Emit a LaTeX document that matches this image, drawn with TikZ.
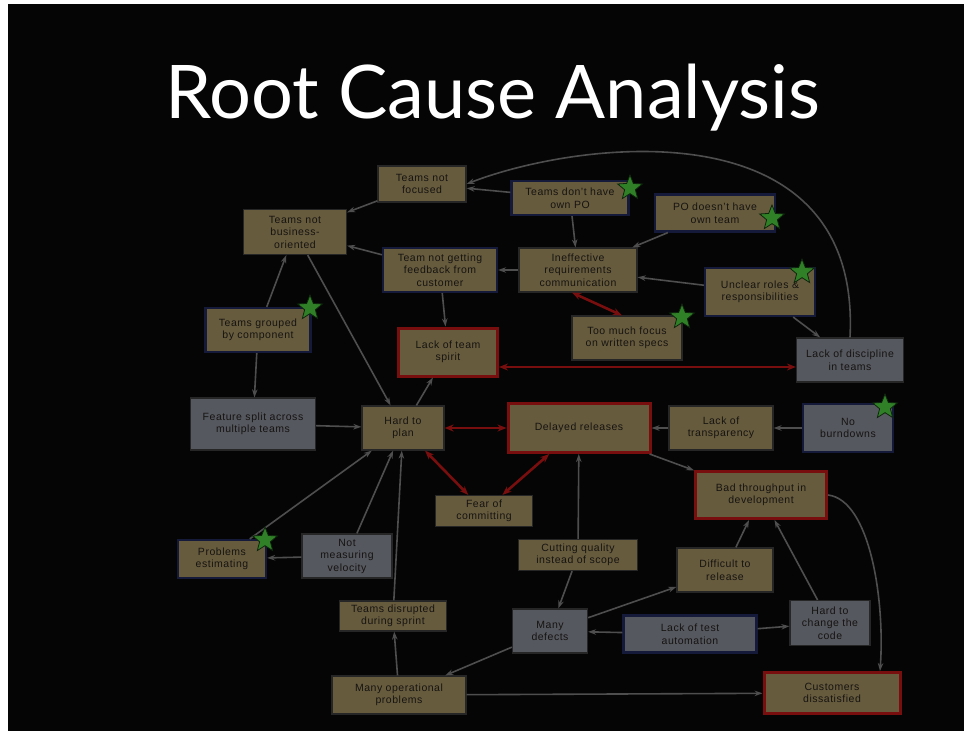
\documentclass[tikz,border=0pt]{standalone}
\usepackage{fontspec}
\setmainfont{Liberation Sans}[LetterSpace=5]
\newfontfamily\titlefont{Lato}
\usetikzlibrary{arrows.meta,shapes.geometric}

\definecolor{tanfill}{RGB}{103,91,62}
\definecolor{grayfill}{RGB}{86,88,96}
\definecolor{edgegray}{RGB}{38,38,38}
\definecolor{navyline}{RGB}{22,26,58}
\definecolor{redline}{RGB}{120,14,14}
\definecolor{linegray}{RGB}{78,78,78}
\definecolor{boxtext}{RGB}{22,20,17}
\definecolor{stargreen}{RGB}{48,128,40}

\begin{document}
\begin{tikzpicture}[
  x=1pt,y=-1pt,
  box/.style={draw=edgegray,line width=1.2pt,fill=tanfill,text=boxtext,align=center,inner sep=1pt,font=\fontsize{10.5}{12.5}\selectfont},
  grey/.style={box,fill=grayfill},
  navy/.style={draw=navyline,line width=2.2pt},
  hot/.style={draw=redline,line width=3pt},
  arrow/.style={-{Stealth[length=8pt,width=5.5pt]},line width=1.6pt,draw=linegray},
  redarrow/.style={{Stealth[length=9pt,width=7pt]}-{Stealth[length=9pt,width=7pt]},line width=2.6pt,draw=redline},
  award/.style={star,star points=5,star point ratio=2.3,fill=stargreen,draw=black!70!stargreen,line width=0.8pt,minimum size=26pt,inner sep=0pt}
]
\fill[white] (0,0) rectangle (964,731);
\fill[black!98] (8,4) rectangle (964,731);

\node[anchor=base,text=white,font=\titlefont\fontsize{74}{74}\selectfont] (title) at (493,118) {Root Cause Analysis};

% causes, top part
\node[box,minimum width=88,minimum height=36] (focused) at (422,184) {Teams not\\focused};
\node[box,navy,minimum width=117,minimum height=34] (noPO) at (570,198) {Teams don't have\\own PO};
\node[box,navy,minimum width=120,minimum height=37] (noteam) at (715,213) {PO doesn't have\\own team};
\node[box,minimum width=103,minimum height=45] (business) at (295,232) {Teams not\\business-\\oriented};
\node[box,navy,minimum width=114,minimum height=44] (feedback) at (440,270) {Team not getting\\feedback from\\customer};
\node[box,minimum width=118,minimum height=44] (ineffective) at (578,270) {Ineffective\\requirements\\communication};
\node[box,navy,minimum width=110,minimum height=48] (unclear) at (760,292) {Unclear roles \&\\responsibilities};
\node[box,navy,minimum width=105,minimum height=44] (grouped) at (258,330) {Teams grouped\\by component};
\node[box,minimum width=110,minimum height=44] (specs) at (627,338) {Too much focus\\on written specs};
\node[box,hot,minimum width=99,minimum height=48] (spirit) at (448,352) {Lack of team\\spirit};
\node[grey,minimum width=107,minimum height=44] (discipline) at (850,360) {Lack of discipline\\in teams};

% middle row
\node[grey,minimum width=125,minimum height=52] (split) at (253,424) {Feature split across\\multiple teams};
\node[box,minimum width=82,minimum height=44] (hardplan) at (403,428) {Hard to\\plan};
\node[box,hot,minimum width=142,minimum height=49] (delayed) at (579,428) {Delayed releases};
\node[box,minimum width=104,minimum height=44] (transparency) at (721,428) {Lack of\\transparency};
\node[grey,navy,minimum width=90,minimum height=48] (burndowns) at (848,428) {No\\burndowns};
\node[box,minimum width=97,minimum height=31] (fear) at (484,511) {Fear of\\committing};
\node[box,hot,minimum width=131,minimum height=47] (throughput) at (761,495) {Bad throughput in\\development};

% lower part
\node[box,navy,minimum width=88,minimum height=38] (estimating) at (222,559) {Problems\\estimating};
\node[grey,minimum width=90,minimum height=44] (velocity) at (347,556) {Not\\measuring\\velocity};
\node[box,minimum width=119,minimum height=31] (cutting) at (578,555) {Cutting quality\\instead of scope};
\node[box,minimum width=96,minimum height=44] (release) at (725,570) {Difficult to\\release};
\node[box,minimum width=107,minimum height=30] (disrupted) at (393,616) {Teams disrupted\\during sprint};
\node[grey,minimum width=75,minimum height=44] (defects) at (550,631) {Many\\defects};
\node[grey,navy,minimum width=133,minimum height=37] (testauto) at (690,634) {Lack of test\\automation};
\node[grey,minimum width=80,minimum height=45] (changecode) at (830,623) {Hard to\\change the\\code};
\node[box,minimum width=134,minimum height=38] (operational) at (399,695) {Many operational\\problems};
\node[box,hot,minimum width=136,minimum height=41] (customers) at (832,693) {Customers\\dissatisfied};

% connectors
\draw[arrow] (discipline.north) .. controls (862,105) and (580,140) .. (focused.east);
\draw[arrow] (noPO) -- (focused);
\draw[arrow] (focused) -- (business);
\draw[arrow] (feedback) -- (business);
\draw[arrow] (grouped) -- (business);
\draw[arrow] (business) -- (hardplan);
\draw[arrow] (ineffective) -- (feedback);
\draw[arrow] (feedback) -- (spirit);
\draw[arrow] (noPO) -- (ineffective);
\draw[arrow] (noteam) -- (ineffective);
\draw[arrow] (unclear) -- (ineffective);
\draw[redarrow] ([xshift=-6pt]ineffective.south) -- ([xshift=-5pt]specs.north);
\draw[arrow] (unclear) -- (discipline);
\draw[redarrow] ([yshift=-15pt]spirit.east) -- ([yshift=-7pt]discipline.west);
\draw[arrow] (grouped) -- (split);
\draw[arrow] (split) -- (hardplan);
\draw[arrow] (estimating) -- (hardplan);
\draw[arrow] (velocity) -- (hardplan);
\draw[arrow] (velocity) -- (estimating);
\draw[arrow] (disrupted) -- (hardplan);
\draw[arrow] (hardplan) -- (spirit);
\draw[redarrow] (hardplan) -- (delayed);
\draw[redarrow] (fear) -- (hardplan);
\draw[redarrow] (fear) -- (delayed);
\draw[arrow] (cutting) -- (delayed);
\draw[arrow] (transparency) -- (delayed);
\draw[arrow] (burndowns) -- (transparency);
\draw[arrow] (delayed) -- (throughput);
\draw[arrow] (release) -- (throughput);
\draw[arrow] (changecode) -- (throughput);
\draw[arrow] (throughput.east) .. controls (870,500) and (885,600) .. ([xshift=48pt]customers.north);
\draw[arrow] (cutting) -- (defects);
\draw[arrow] (defects) -- (release);
\draw[arrow] (testauto) -- (defects);
\draw[arrow] (testauto) -- (changecode);
\draw[arrow] (defects) -- (operational);
\draw[arrow] (operational) -- (disrupted);
\draw[arrow] (operational) -- (customers);

% stars
\node[award] (starA) at (630,188) {};
\node[award] (starB) at (772,218) {};
\node[award] (starC) at (802,272) {};
\node[award] (starD) at (682,317) {};
\node[award] (starE) at (310,308) {};
\node[award] (starF) at (885,407) {};
\node[award] (starG) at (265,540) {};
\end{tikzpicture}
\end{document}
